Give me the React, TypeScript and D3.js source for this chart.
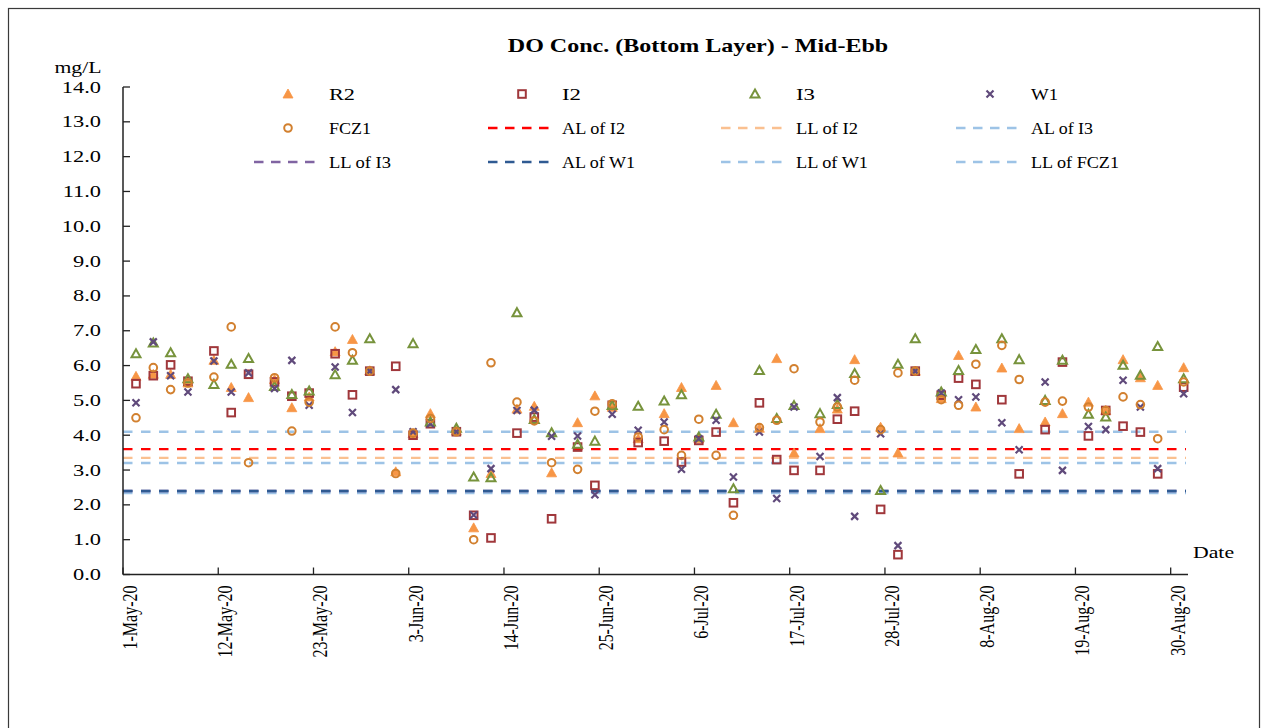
import React from "react";
import * as d3 from "d3";

const dates: string[] = [
  "2020-05-02","2020-05-04","2020-05-06","2020-05-08","2020-05-11","2020-05-13","2020-05-15","2020-05-18","2020-05-20","2020-05-22","2020-05-25","2020-05-27","2020-05-29",
  "2020-06-01","2020-06-03","2020-06-05","2020-06-08","2020-06-10","2020-06-12","2020-06-15","2020-06-17","2020-06-19","2020-06-22","2020-06-24","2020-06-26","2020-06-29",
  "2020-07-02","2020-07-04","2020-07-06","2020-07-08","2020-07-10","2020-07-13","2020-07-15","2020-07-17","2020-07-20","2020-07-22","2020-07-24","2020-07-27","2020-07-29","2020-07-31",
  "2020-08-03","2020-08-05","2020-08-07","2020-08-10","2020-08-12","2020-08-15","2020-08-17","2020-08-20","2020-08-22","2020-08-24","2020-08-26","2020-08-28","2020-08-31",
];

const r2: (number | null)[] = [
  5.69,5.75,5.75,5.5,6.15,5.37,5.08,5.6,4.79,5.1,6.4,6.75,5.85,
  2.95,4.05,4.62,4.12,1.34,2.9,4.75,4.83,2.92,4.36,5.13,4.8,3.9,
  4.62,5.37,3.9,5.43,4.36,4.2,6.2,3.49,4.19,4.75,6.17,4.23,3.49,5.84,
  5.05,6.29,4.81,5.93,4.19,4.38,4.62,4.95,4.71,6.17,5.65,5.43,5.94,
];
const i2: (number | null)[] = [
  5.48,5.71,6.02,5.55,6.42,4.65,5.75,5.53,5.12,5.21,6.34,5.16,5.84,
  5.98,4.0,4.33,4.1,1.7,1.05,4.06,4.52,1.6,3.66,2.56,4.86,3.79,
  3.83,3.23,3.85,4.09,2.06,4.93,3.3,2.99,2.99,4.46,4.69,1.87,0.57,5.84,
  5.15,5.64,5.46,5.02,2.89,4.16,6.1,3.98,4.71,4.26,4.09,2.89,5.38,
];
const i3: (number | null)[] = [
  6.34,6.65,6.37,5.62,5.46,6.04,6.2,5.4,5.17,5.27,5.74,6.15,6.77,
  null,6.63,4.38,4.2,2.8,2.78,7.52,4.45,4.07,3.74,3.83,4.85,4.83,
  4.98,5.16,3.95,4.6,2.46,5.86,4.48,4.85,4.62,4.88,5.77,2.41,6.04,6.77,
  5.24,5.86,6.46,6.77,6.17,5.0,6.15,4.6,4.52,6.01,5.72,6.55,5.62,
];
const w1: (number | null)[] = [
  4.93,6.68,5.71,5.24,6.13,5.24,5.79,5.34,6.15,4.86,5.96,4.65,5.84,
  5.31,4.1,4.33,4.1,1.71,3.04,4.71,4.72,3.97,3.98,2.29,4.6,4.14,
  4.38,3.02,3.9,4.43,2.8,4.09,2.18,4.81,3.39,5.08,1.67,4.04,0.83,5.84,
  5.21,5.02,5.1,4.36,3.58,5.53,2.99,4.25,4.16,5.58,4.81,3.04,5.19,
];
const fcz1: (number | null)[] = [
  4.5,5.94,5.31,5.5,5.67,7.11,3.21,5.65,4.12,4.95,7.11,6.37,5.84,
  2.9,4.06,4.48,4.1,1.0,6.08,4.95,4.41,3.21,3.02,4.69,4.9,3.95,
  4.16,3.42,4.46,3.42,1.7,4.22,4.43,5.91,4.38,4.81,5.58,4.16,5.79,5.84,
  5.02,4.86,6.04,6.58,5.6,4.95,4.98,4.81,4.71,5.1,4.88,3.9,5.53,
];

const markerSeries = [
  { name: "R2", values: r2, shape: "triFill", color: "#F79646" },
  { name: "I2", values: i2, shape: "square", color: "#A0373B" },
  { name: "I3", values: i3, shape: "tri", color: "#77933C" },
  { name: "W1", values: w1, shape: "x", color: "#604A7B" },
  { name: "FCZ1", values: fcz1, shape: "circle", color: "#D2802F" },
];

const limitNames = ["AL of I2", "LL of I2", "AL of I3", "LL of I3", "AL of W1", "LL of W1", "LL of FCZ1"];
const limitValues = [3.6, 3.35, 4.1, 2.4, 2.4, 3.2, 2.36];
const limitColors = ["#FF0000", "#FAC090", "#9DC3E6", "#8064A2", "#2F5A92", "#9DC3E6", "#9DC3E6"];
const limitDrawOrder = [6, 3, 4, 5, 2, 1, 0];

const yTicks = [0, 1, 2, 3, 4, 5, 6, 7, 8, 9, 10, 11, 12, 13, 14];
const xTickDates = ["2020-05-01","2020-05-12","2020-05-23","2020-06-03","2020-06-14","2020-06-25","2020-07-06","2020-07-17","2020-07-28","2020-08-08","2020-08-19","2020-08-30"];

// layout styling (legend label widths as rendered in the reference)
const legendTextWidth = [26, 19, 19, 27, 42, 63, 62, 62, 62, 73, 72, 88];

const FONT = "'Liberation Serif', 'Times New Roman', serif";
const SX = 1.36;

function parse(s: string) {
  const [y, m, d] = s.split("-").map(Number);
  return new Date(y, m - 1, d);
}
function mid(s: string) {
  const d = parse(s);
  return new Date(d.getTime() + 12 * 3600 * 1000);
}
const monthAbbr = ["Jan","Feb","Mar","Apr","May","Jun","Jul","Aug","Sep","Oct","Nov","Dec"];
function fmt(s: string) {
  const d = parse(s);
  return `${d.getDate()}-${monthAbbr[d.getMonth()]}-${String(d.getFullYear()).slice(2)}`;
}

function Marker({ shape, color, x, y }: { shape: string; color: string; x: number; y: number }) {
  if (shape === "triFill") {
    return <path d={`M${x},${y - 5} L${x + 5},${y + 4} L${x - 5},${y + 4} Z`} fill={color} stroke={color} strokeWidth={0.8} />;
  }
  if (shape === "tri") {
    return <path d={`M${x},${y - 4.5} L${x + 4.5},${y + 3.5} L${x - 4.5},${y + 3.5} Z`} fill="none" stroke={color} strokeWidth={2} strokeLinejoin="miter" />;
  }
  if (shape === "square") {
    return <rect x={x - 3.8} y={y - 3.8} width={7.6} height={7.6} fill="none" stroke={color} strokeWidth={2} />;
  }
  if (shape === "circle") {
    return <circle cx={x} cy={y} r={3.8} fill="none" stroke={color} strokeWidth={2} />;
  }
  return (
    <path d={`M${x - 3.5},${y - 3.5} L${x + 3.5},${y + 3.5} M${x + 3.5},${y - 3.5} L${x - 3.5},${y + 3.5}`} stroke={color} strokeWidth={2.2} />
  );
}

function SText({ x, y, sx, anchor, size, weight, children }: any) {
  return (
    <text transform={`translate(${x},${y}) scale(${sx},1)`} textAnchor={anchor || "start"} fontSize={size || 16} fontWeight={weight || "normal"} fill="#000">
      {children}
    </text>
  );
}

export default function App() {
  const x = d3.scaleTime().domain([parse("2020-05-01"), parse("2020-09-01")]).range([123, 1188]);
  const y = d3.scaleLinear().domain([0, 14]).range([574.5, 87]);
  const x0 = 123, x1 = 1188;
  const yAxisBottom = y(0);

  const legendColX = [288, 522, 755, 990];
  const legendTextX = [329, 562, 796, 1031];
  const legendRowY = [94, 128, 162];
  const legendItems = [
    ...markerSeries.map((s) => ({ name: s.name, kind: "marker", shape: s.shape, color: s.color })),
    ...limitNames.map((n, i) => ({ name: n, kind: "line", shape: "", color: limitColors[i] })),
  ];

  return (
    <svg width={1268} height={728} style={{ position: "absolute", left: 0, top: 0, background: "#fff" }} fontFamily={FONT}>
      <rect x={0} y={0} width={1268} height={728} fill="#fff" />
      <rect x={8.5} y={8.5} width={1251} height={740} fill="none" stroke="#3a3a3a" strokeWidth={1.2} />
      <SText x={698} y={52} sx={1.3} anchor="middle" size={18.5} weight="bold">DO Conc. (Bottom Layer) - Mid-Ebb</SText>
      <SText x={78} y={73} sx={SX} anchor="middle">mg/L</SText>

      {/* limit lines */}
      {limitDrawOrder.map((i) => (
        <line key={limitNames[i]} x1={x0} x2={1186} y1={y(limitValues[i])} y2={y(limitValues[i])}
          stroke={limitColors[i]} strokeWidth={i === 6 ? 4 : 2.4} strokeDasharray="9.5 8.5" />
      ))}

      {/* axes */}
      <line x1={x0} x2={x0} y1={y(14)} y2={yAxisBottom} stroke="#222" strokeWidth={1.5} />
      {yTicks.map((t) => (
        <g key={t}>
          <line x1={x0} x2={x0 + 7} y1={y(t)} y2={y(t)} stroke="#222" strokeWidth={1.3} />
          <SText x={101} y={y(t) + 5.5} sx={1.4} anchor="end">{t.toFixed(1)}</SText>
        </g>
      ))}
      <line x1={x0} x2={x1} y1={yAxisBottom} y2={yAxisBottom} stroke="#222" strokeWidth={1.5} />
      {xTickDates.map((s) => {
        const tx = x(parse(s));
        const lx = x(mid(s)) + 2;
        return (
          <g key={s}>
            <line x1={tx} x2={tx} y1={yAxisBottom} y2={yAxisBottom - 7} stroke="#222" strokeWidth={1.3} />
            <text transform={`translate(${lx},${yAxisBottom + 11}) scale(1.35,1) rotate(-90)`} textAnchor="end" dy="0.35em" fontSize={16} fill="#000">
              {fmt(s)}
            </text>
          </g>
        );
      })}
      <SText x={1193} y={558} sx={SX}>Date</SText>

      {/* markers */}
      {markerSeries.map((s) => (
        <g key={s.name}>
          {dates.map((d, i) => {
            const v = s.values[i];
            if (v === null || v === undefined) return null;
            return <Marker key={d} shape={s.shape} color={s.color} x={x(mid(d))} y={y(v)} />;
          })}
        </g>
      ))}

      {/* legend */}
      {legendItems.map((it, i) => {
        const col = i % 4;
        const row = Math.floor(i / 4);
        const cx = legendColX[col];
        const cy = legendRowY[row];
        return (
          <g key={it.name}>
            {it.kind === "marker" ? (
              <Marker shape={it.shape} color={it.color} x={cx} y={cy} />
            ) : (
              <line x1={cx - 34} x2={cx + 31} y1={cy} y2={cy} stroke={it.color} strokeWidth={2.4} strokeDasharray="9.5 7.5" />
            )}
            <text x={legendTextX[col]} y={cy + 5.5} fontSize={16} fill="#000" textLength={legendTextWidth[i]} lengthAdjust="spacingAndGlyphs">
              {it.name}
            </text>
          </g>
        );
      })}
    </svg>
  );
}
